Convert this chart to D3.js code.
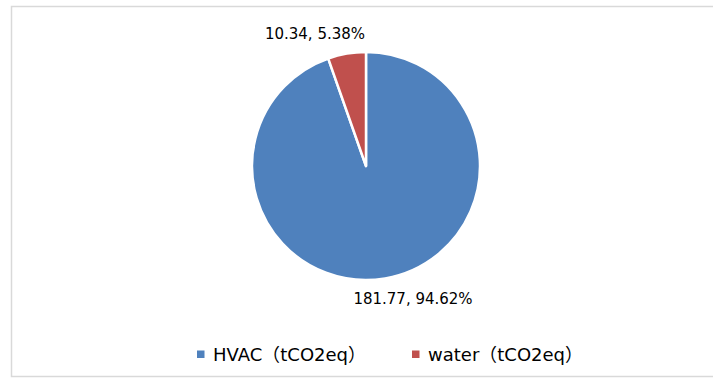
<!DOCTYPE html>
<html lang="en">
<head>
    <meta charset="UTF-8">
    <script src="https://cdnjs.cloudflare.com/ajax/libs/d3/7.8.5/d3.min.js"></script>
    <title>tCO2eq pie</title>
    <style>
        @font-face {
            font-family: "CJKParen";
            src: local("Noto Sans CJK SC"), local("NotoSansCJKsc-Regular");
            unicode-range: U+FF08-FF09;
        }
        body { margin: 0; background: #fff; }
        svg { display: block; font-family: "CJKParen", "DejaVu Sans", "Noto Sans CJK SC", sans-serif; }
    </style>
</head>
<body>
    <svg width="713" height="379"></svg>
    <script>
        // data
        var categories = ["HVAC（tCO2eq）", "water（tCO2eq）"];
        var values = [181.77, 10.34];
        var percents = ["94.62%", "5.38%"];
        var colors = ["#4F81BD", "#C0504D"];

        var svg = d3.select("svg");

        // chart frame
        svg.append("rect")
            .attr("x", 11.5).attr("y", 6.5)
            .attr("width", 720).attr("height", 370)
            .attr("fill", "none")
            .attr("stroke", "#d9d9d9")
            .attr("stroke-width", 1.5);

        var cx = 366, cy = 166, r = 114;
        var pie = d3.pie().sort(null).value(d => d);
        var arcs = pie(values);
        var arc = d3.arc().innerRadius(0).outerRadius(r);

        var g = svg.append("g").attr("transform", "translate(" + cx + "," + cy + ")");
        g.selectAll("path")
            .data(arcs)
            .enter()
            .append("path")
            .attr("d", arc)
            .attr("fill", (d, i) => colors[i])
            .attr("stroke", "#fff")
            .attr("stroke-width", 2.5)
            .attr("stroke-linejoin", "round");

        // data labels
        var labelPos = [[413, 304], [315, 39]];
        svg.selectAll("text.lbl")
            .data(arcs)
            .enter()
            .append("text")
            .attr("class", "lbl")
            .attr("x", (d, i) => labelPos[i][0])
            .attr("y", (d, i) => labelPos[i][1])
            .attr("text-anchor", "middle")
            .style("font-size", "15px")
            .attr("fill", "#000")
            .text((d, i) => d3.format(".2f")(values[i]) + ", " + percents[i]);

        // legend
        var legendX = [197, 412];
        var lg = svg.selectAll("g.legend")
            .data(categories)
            .enter()
            .append("g")
            .attr("class", "legend")
            .attr("transform", (d, i) => "translate(" + legendX[i] + ",350.5)");
        lg.append("rect")
            .attr("width", 7.5).attr("height", 7.5)
            .attr("fill", (d, i) => colors[i]);
        lg.append("text")
            .attr("x", 16).attr("y", 10)
            .style("font-size", "18px")
            .attr("fill", "#000")
            .text(d => d);
    </script>
</body>
</html>
